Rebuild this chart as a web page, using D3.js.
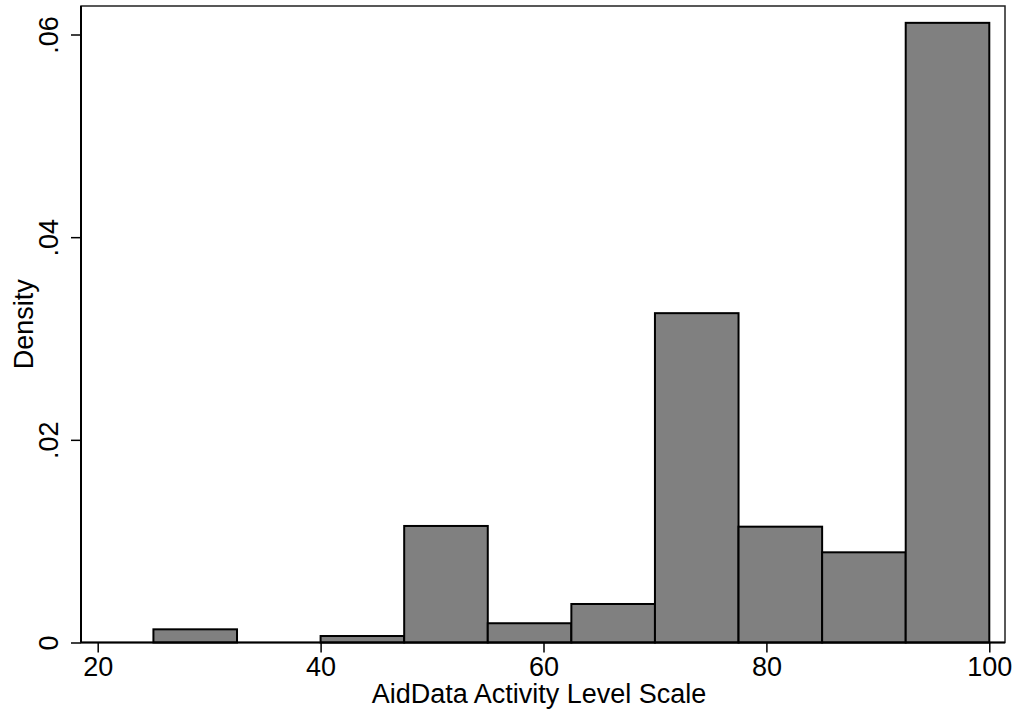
<!DOCTYPE html>
<html>
<head>
<meta charset="utf-8">
<script src="https://cdn.jsdelivr.net/npm/d3@7"></script>
<style>
  html, body { margin: 0; padding: 0; background: #fff; }
  svg { display: block; }
  text { font-family: "Liberation Sans", Arial, Helvetica, sans-serif; fill: #000; }
</style>
</head>
<body>
<svg id="chart" width="1014" height="717"></svg>
<script>
// Histogram bins (AidData Activity Level Scale)
const binStarts = [25, 32.5, 40, 47.5, 55, 62.5, 70, 77.5, 85, 92.5];
const binWidth = 7.5;
const densities = [0.0013, 0, 0.00064, 0.0115, 0.0019, 0.0038, 0.0325, 0.01143, 0.0089, 0.06115];
const xTicks = [20, 40, 60, 80, 100];
const yTicks = [0, 0.02, 0.04, 0.06];
const yTickLabels = ["0", ".02", ".04", ".06"];
const xTitle = "AidData Activity Level Scale";
const yTitle = "Density";

const svg = d3.select("#chart");
const plot = { left: 81, right: 1005, top: 6, bottom: 642.5 };

const x = d3.scaleLinear().domain([20, 100]).range([97.7, 989.3]);
const y = d3.scaleLinear().domain([0, 0.06]).range([642.5, 34.5]);

// plot region frame
svg.append("rect")
  .attr("x", plot.left).attr("y", plot.top)
  .attr("width", plot.right - plot.left).attr("height", plot.bottom - plot.top)
  .attr("fill", "none").attr("stroke", "#222").attr("stroke-width", 1.5);

// bars
const bins = binStarts.map((s, i) => ({ x0: s, x1: s + binWidth, d: densities[i] }));
svg.append("g").selectAll("rect")
  .data(bins.filter(b => b.d > 0))
  .join("rect")
  .attr("x", b => x(b.x0))
  .attr("y", b => y(b.d))
  .attr("width", b => x(b.x1) - x(b.x0))
  .attr("height", b => y(0) - y(b.d))
  .attr("fill", "#808080")
  .attr("stroke", "#000")
  .attr("stroke-width", 2);

// x axis
const xAxis = d3.axisBottom(x).tickValues(xTicks).tickSize(10).tickPadding(4).tickFormat(d3.format("d"));
const gx = svg.append("g").attr("transform", `translate(0,${plot.bottom})`).call(xAxis);
gx.select(".domain").attr("d", `M${plot.left},0H${plot.right}`).attr("stroke", "#000").attr("stroke-width", 2);
gx.selectAll(".tick line").attr("stroke", "#000").attr("stroke-width", 1.5);
gx.selectAll(".tick text").attr("font-size", 27).attr("font-family", "Liberation Sans, Arial, sans-serif").attr("fill", "#000");

// y axis
const yAxis = d3.axisLeft(y).tickValues(yTicks).tickSize(10).tickPadding(0).tickFormat((d, i) => yTickLabels[i]);
const gy = svg.append("g").attr("transform", `translate(${plot.left},0)`).call(yAxis);
gy.select(".domain").attr("d", `M0,${plot.top}V${plot.bottom}`).attr("stroke", "#000").attr("stroke-width", 2);
gy.selectAll(".tick line").attr("stroke", "#000").attr("stroke-width", 1.5);
gy.selectAll(".tick text")
  .attr("font-size", 27).attr("font-family", "Liberation Sans, Arial, sans-serif").attr("fill", "#000")
  .attr("x", null).attr("dy", null)
  .attr("text-anchor", "middle")
  .attr("transform", "translate(-23,0) rotate(-90)");

// titles
svg.append("text")
  .attr("x", (plot.left + plot.right) / 2 - 4).attr("y", 703)
  .attr("text-anchor", "middle").attr("font-size", 27)
  .text(xTitle);
svg.append("text")
  .attr("transform", `translate(33,${(plot.top + plot.bottom) / 2}) rotate(-90)`)
  .attr("text-anchor", "middle").attr("font-size", 27)
  .text(yTitle);
</script>
</body>
</html>
